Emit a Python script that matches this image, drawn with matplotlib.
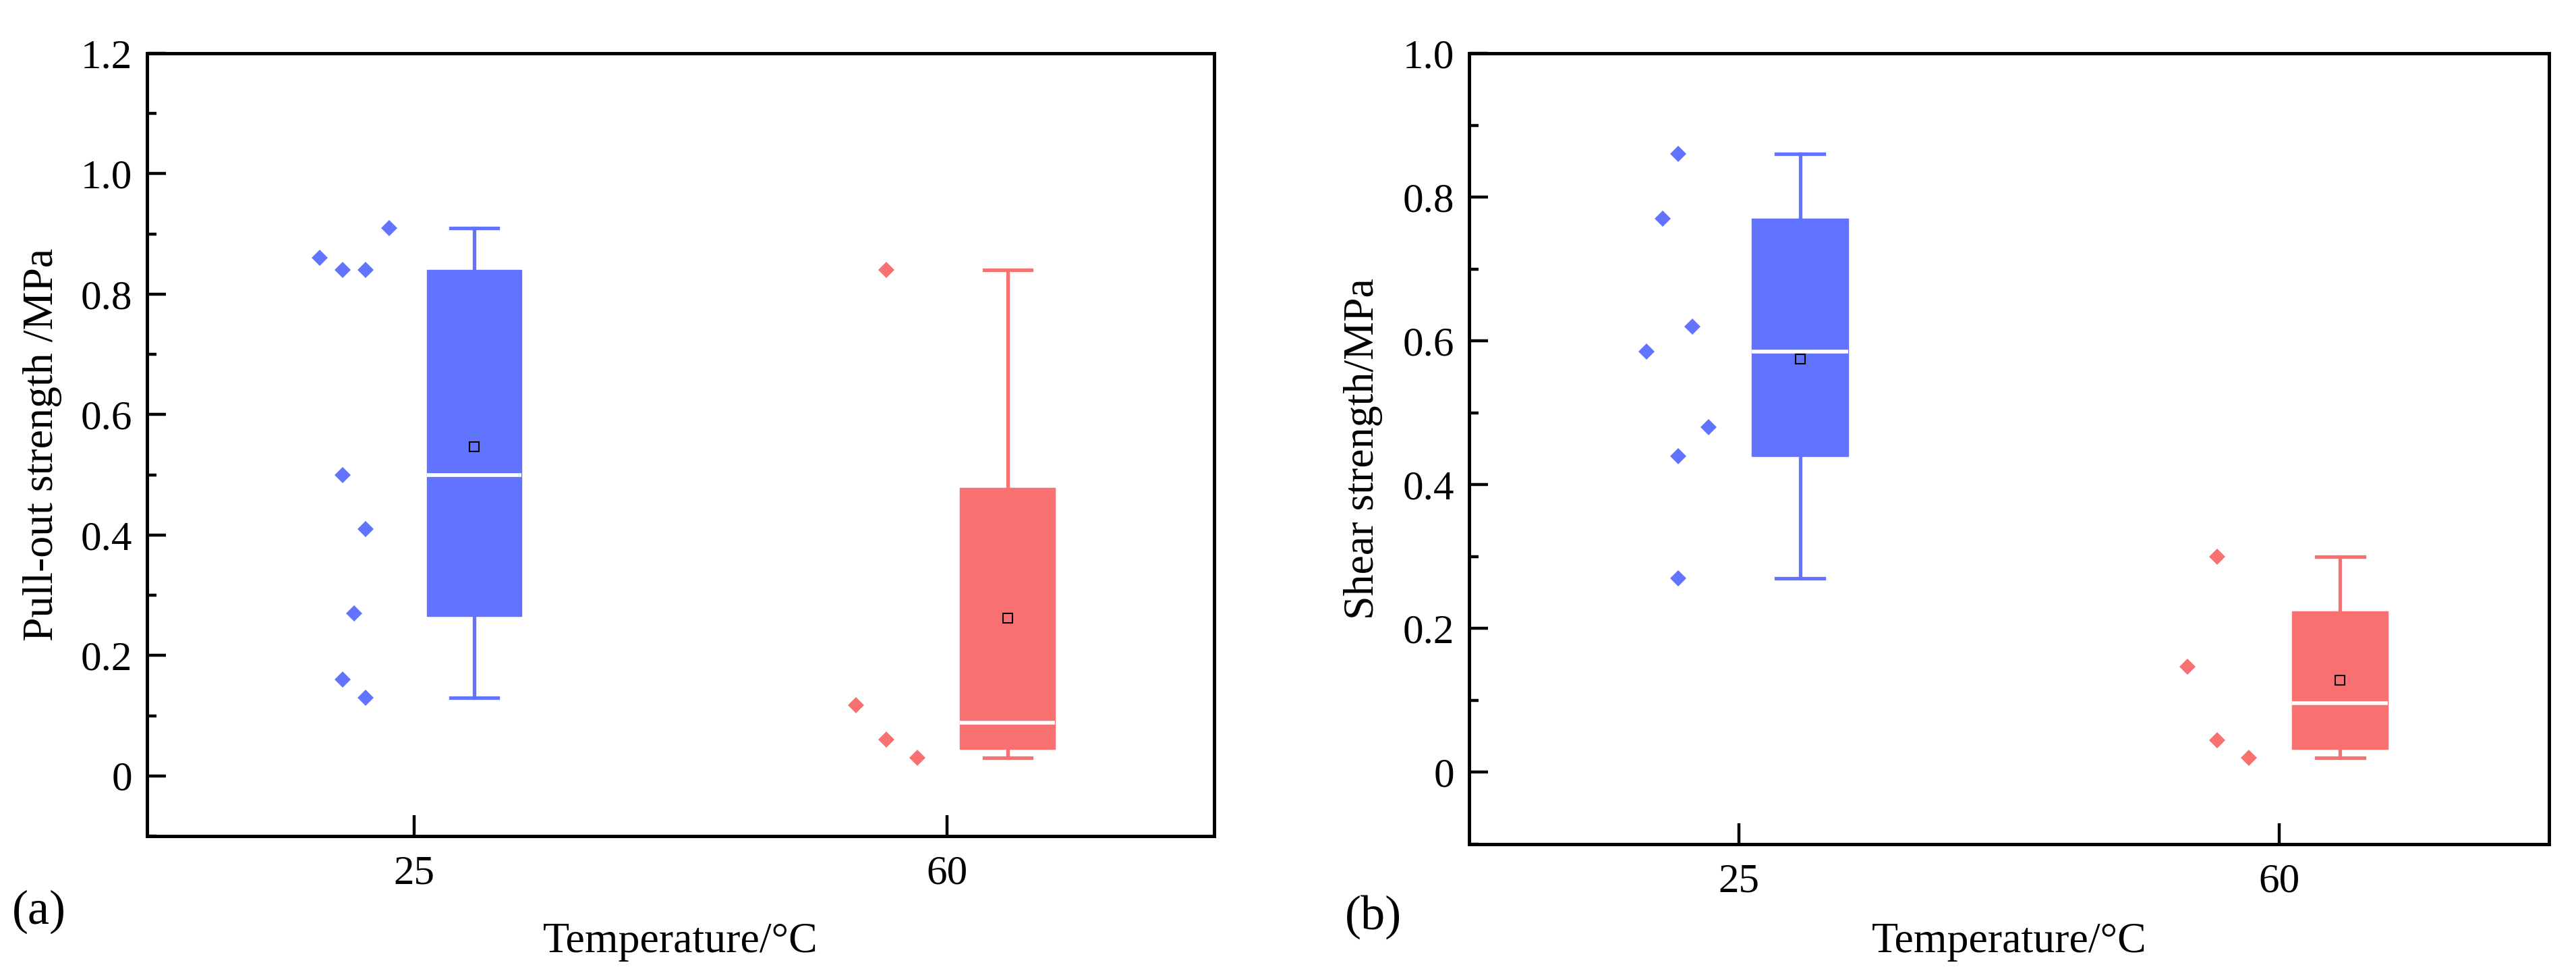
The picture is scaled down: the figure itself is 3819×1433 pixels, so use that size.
import numpy as np
import matplotlib
matplotlib.use('Agg')
import matplotlib.pyplot as plt
from matplotlib.ticker import MultipleLocator, FuncFormatter

# Categories
temps = ['25', '60']

# Raw data points (MPa)
pull_25 = [0.86, 0.84, 0.84, 0.91, 0.50, 0.41, 0.27, 0.16, 0.13]
pull_60 = [0.84, 0.117, 0.06, 0.03]
shear_25 = [0.86, 0.77, 0.62, 0.585, 0.48, 0.44, 0.27]
shear_60 = [0.30, 0.147, 0.045, 0.02]

# Box statistics as drawn in the figure (25, 60)
pull_q1 = [0.265, 0.045]
pull_med = [0.50, 0.0885]
pull_q3 = [0.84, 0.4785]
pull_lo = [0.13, 0.03]
pull_hi = [0.91, 0.84]

shear_q1 = [0.44, 0.0325]
shear_med = [0.585, 0.096]
shear_q3 = [0.77, 0.2235]
shear_lo = [0.27, 0.02]
shear_hi = [0.86, 0.30]

# horizontal jitter of the data points (category units)
pull_25_dx = [-0.176, -0.133, -0.090, -0.046, -0.133, -0.090, -0.112, -0.133, -0.090]
pull_60_dx = [-0.114, -0.171, -0.114, -0.056]
shear_25_dx = [-0.113, -0.142, -0.086, -0.171, -0.057, -0.113, -0.113]
shear_60_dx = [-0.114, -0.170, -0.114, -0.056]

colors = ['#6173FF', '#F97070']

plt.rcParams['font.family'] = ['Liberation Serif', 'DejaVu Serif']
plt.rcParams['font.size'] = 44


def draw_panel(ax, groups, jitters, q1, med, q3, lo, hi, ymax, ylabel,
               tag, tag_xy, xlabel_y):
    pos = np.arange(1, len(temps) + 1)
    stats = []
    for i, vals in enumerate(groups):
        stats.append({'q1': q1[i], 'med': med[i], 'q3': q3[i],
                      'whislo': lo[i], 'whishi': hi[i],
                      'mean': np.mean(vals), 'fliers': []})
    for i in range(len(groups)):
        ax.bxp([stats[i]], positions=[pos[i] + 0.113], widths=0.178,
               capwidths=0.089, patch_artist=True, showmeans=True,
               boxprops=dict(facecolor=colors[i], edgecolor=colors[i], linewidth=1),
               whiskerprops=dict(color=colors[i], linewidth=3.8),
               capprops=dict(color=colors[i], linewidth=3.8),
               medianprops=dict(color='white', linewidth=4),
               meanprops=dict(marker='s', markersize=10, markerfacecolor='none',
                              markeredgecolor='black', markeredgewidth=1.5),
               zorder=2)
        xs = pos[i] + np.array(jitters[i])
        ax.plot(xs, groups[i], linestyle='none', marker='D', markersize=12.5,
                color=colors[i], markeredgewidth=0, zorder=3)

    ax.set_xlim(0.5, 2.5)
    ax.set_ylim(-0.1, ymax)
    ax.set_xticks(pos)
    ax.set_xticklabels(temps)
    ax.yaxis.set_major_locator(MultipleLocator(0.2))
    ax.yaxis.set_minor_locator(MultipleLocator(0.1))
    ax.yaxis.set_major_formatter(FuncFormatter(lambda v, p: '0' if abs(v) < 1e-9 else '%.1f' % v))
    ax.tick_params(axis='both', which='both', direction='in', top=False, right=False)
    ax.tick_params(axis='y', which='major', length=20, width=3.2, pad=16)
    ax.tick_params(axis='y', which='minor', length=10, width=3.2)
    ax.tick_params(axis='x', which='major', length=22, width=3.2, pad=20)
    for sp in ax.spines.values():
        sp.set_linewidth(3.6)

    ax.set_ylabel(ylabel, fontsize=46)
    ax.yaxis.label.set_va('center')
    ax.yaxis.set_label_coords(-0.098, 0.5)
    ax.set_xlabel('Temperature/\u00b0C', fontsize=46)
    ax.xaxis.label.set_va('center')
    ax.xaxis.set_label_coords(0.5, xlabel_y)
    ax.text(tag_xy[0], tag_xy[1], tag, transform=ax.transAxes,
            ha='center', va='center', fontsize=52)


fig = plt.figure(figsize=(38.19, 14.33), dpi=100)
ax1 = fig.add_axes([0.0571, 0.1354, 0.4142, 0.8095])
ax2 = fig.add_axes([0.5703, 0.1270, 0.4192, 0.8179])

draw_panel(ax1, [pull_25, pull_60], [pull_25_dx, pull_60_dx],
           pull_q1, pull_med, pull_q3, pull_lo, pull_hi,
           1.2, 'Pull-out strength /MPa', '(a)', (-0.101, -0.097), -0.135)
draw_panel(ax2, [shear_25, shear_60], [shear_25_dx, shear_60_dx],
           shear_q1, shear_med, shear_q3, shear_lo, shear_hi,
           1.0, 'Shear strength/MPa', '(b)', (-0.089, -0.092), -0.1235)

fig.savefig('out.png', dpi=100)
